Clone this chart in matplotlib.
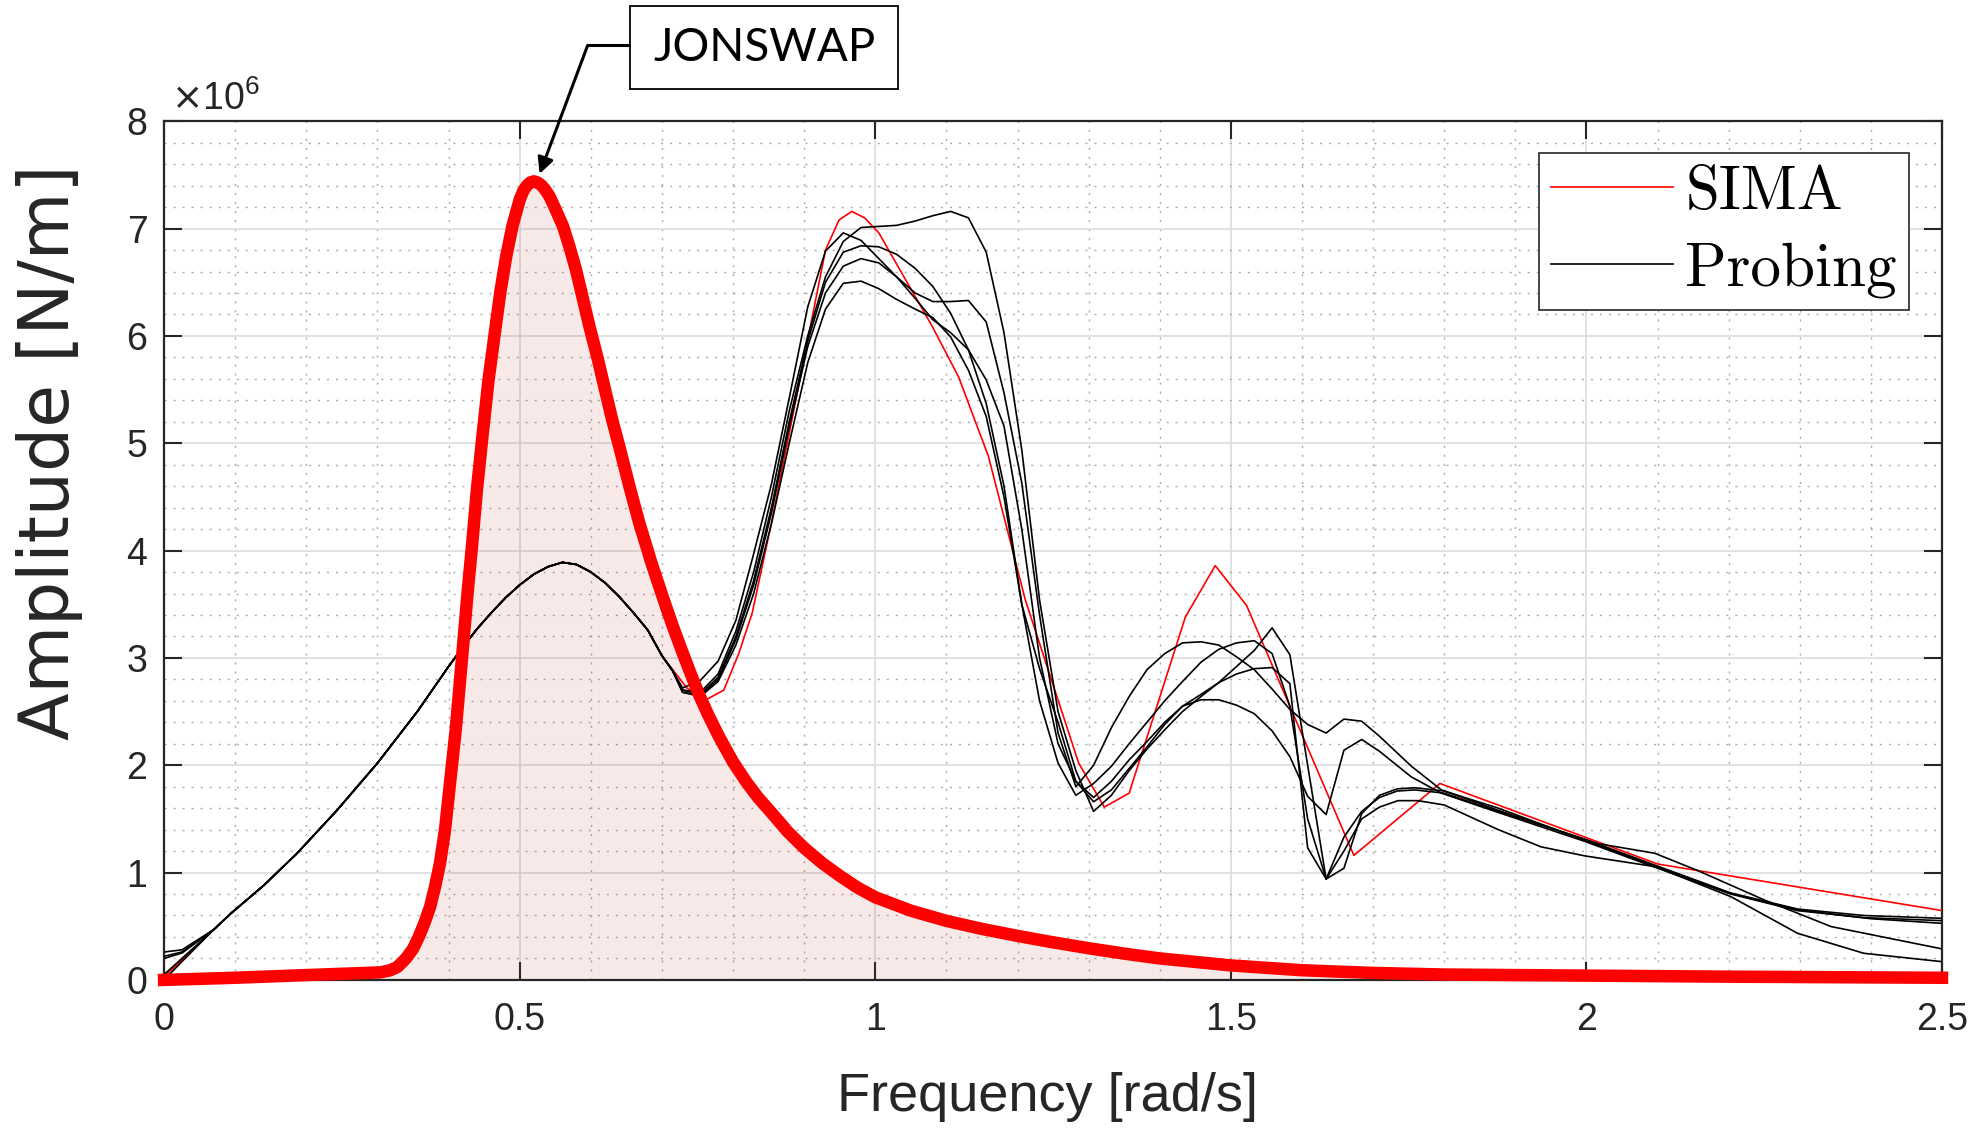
import matplotlib
matplotlib.use('Agg')
import matplotlib.pyplot as plt
from matplotlib.ticker import MultipleLocator, FormatStrFormatter
from matplotlib.patches import Rectangle

plt.rcParams['font.family'] = ['Liberation Sans', 'DejaVu Sans']

# ---- data (amplitudes in 1e6 N/m) ----
jonswap_freq = [0.0, 0.10, 0.20, 0.304, 0.318, 0.328, 0.340, 0.350, 0.358, 0.366, 0.374, 0.381,
                0.388, 0.395, 0.400, 0.410, 0.419, 0.427, 0.433, 0.440, 0.448, 0.456, 0.465, 0.473,
                0.481, 0.490, 0.500, 0.505, 0.510, 0.515, 0.520, 0.525, 0.531, 0.536, 0.542, 0.551,
                0.561, 0.570, 0.579, 0.588, 0.598, 0.610, 0.621, 0.630, 0.640, 0.655, 0.668, 0.685,
                0.701, 0.715, 0.729, 0.740, 0.752, 0.765, 0.780, 0.800, 0.818, 0.835, 0.855, 0.877,
                0.90, 0.925, 0.95, 0.975, 1.00, 1.05, 1.10, 1.15, 1.20, 1.25, 1.30, 1.35,
                1.40, 1.50, 1.60, 1.70, 1.80, 2.00, 2.20, 2.50]
jonswap_amp = [0.00, 0.02, 0.045, 0.07, 0.09, 0.12, 0.20, 0.29, 0.40, 0.53, 0.68, 0.87,
               1.09, 1.40, 1.71, 2.33, 3.01, 3.63, 4.05, 4.58, 5.09, 5.58, 6.03, 6.42,
               6.74, 7.03, 7.27, 7.35, 7.40, 7.43, 7.44, 7.43, 7.40, 7.36, 7.30, 7.17,
               7.02, 6.83, 6.62, 6.37, 6.09, 5.78, 5.47, 5.22, 4.97, 4.58, 4.26, 3.89,
               3.57, 3.30, 3.05, 2.86, 2.66, 2.47, 2.27, 2.03, 1.85, 1.70, 1.55, 1.38,
               1.23, 1.09, 0.97, 0.86, 0.77, 0.645, 0.55, 0.475, 0.41, 0.35, 0.295, 0.245,
               0.20, 0.135, 0.09, 0.065, 0.05, 0.04, 0.03, 0.02]

sima_freq = [0.0, 0.07, 0.094, 0.14, 0.187, 0.243, 0.30, 0.356, 0.40, 0.42, 0.44, 0.46,
             0.48, 0.50, 0.52, 0.54, 0.56, 0.58, 0.60, 0.62, 0.64, 0.66, 0.68, 0.70,
             0.735, 0.762, 0.787, 0.808, 0.827, 0.855, 0.893, 0.930, 0.949, 0.967, 0.985, 1.005,
             1.080, 1.117, 1.159, 1.211, 1.286, 1.322, 1.357, 1.436, 1.478, 1.522, 1.673, 1.794,
             2.10, 2.50]
sima_amp = [0.03, 0.47, 0.62, 0.88, 1.18, 1.58, 2.02, 2.50, 2.92, 3.10, 3.27, 3.42,
            3.56, 3.68, 3.78, 3.85, 3.89, 3.87, 3.80, 3.70, 3.57, 3.42, 3.26, 3.02,
            2.72, 2.61, 2.70, 3.04, 3.42, 4.29, 5.56, 6.80, 7.08, 7.16, 7.10, 6.96,
            6.09, 5.62, 4.88, 3.54, 2.02, 1.61, 1.74, 3.38, 3.86, 3.49, 1.16, 1.83,
            1.08, 0.646]

# probing runs: common start / low-frequency hump
start_freq = [0.0, 0.025]
low_freq = [0.07, 0.094, 0.14, 0.187, 0.243, 0.30, 0.356, 0.40, 0.42, 0.44, 0.46, 0.48,
            0.50, 0.52, 0.54, 0.56, 0.58, 0.60, 0.62, 0.64, 0.66, 0.68, 0.70, 0.715]
low_amp = [0.47, 0.62, 0.88, 1.18, 1.58, 2.02, 2.50, 2.92, 3.10, 3.27, 3.42, 3.56,
           3.68, 3.78, 3.85, 3.89, 3.87, 3.80, 3.70, 3.57, 3.42, 3.26, 3.02, 2.88]

mid_freq = [0.729, 0.754, 0.779, 0.804, 0.829, 0.854, 0.879, 0.905, 0.930, 0.955,
            0.980, 1.005, 1.030, 1.056, 1.081, 1.106, 1.131, 1.156, 1.181, 1.206,
            1.231, 1.257, 1.282, 1.307, 1.332, 1.357, 1.382, 1.407, 1.432, 1.458,
            1.483, 1.508, 1.533, 1.558, 1.583, 1.608, 1.634, 1.659, 1.684, 1.709]

run1_start = [0.26, 0.28]
run1_mid = [2.72, 2.79, 2.97, 3.35, 3.97, 4.62, 5.42, 6.27, 6.79, 6.96,
            6.89, 6.72, 6.55, 6.40, 6.32, 6.32, 6.33, 6.13, 5.47, 4.63,
            3.40, 2.30, 1.80, 2.00, 2.35, 2.64, 2.89, 3.04, 3.14, 3.15,
            3.12, 3.01, 2.89, 2.71, 2.52, 2.38, 2.30, 2.43, 2.41, 2.27]
run1_tail_freq = [1.754, 1.796, 1.876, 1.998, 2.096, 2.203, 2.297, 2.39, 2.5]
run1_tail_amp = [1.99, 1.77, 1.58, 1.31, 1.07, 0.81, 0.66, 0.60, 0.574]

run2_start = [0.22, 0.26]
run2_mid = [2.70, 2.68, 2.85, 3.25, 3.80, 4.50, 5.30, 6.00, 6.55, 6.88,
            7.01, 7.02, 7.03, 7.07, 7.12, 7.16, 7.10, 6.78, 6.03, 4.94,
            3.54, 2.50, 1.95, 1.57, 1.72, 1.95, 2.15, 2.33, 2.50, 2.64,
            2.77, 2.92, 3.07, 3.28, 3.03, 2.00, 0.94, 1.04, 1.55, 1.72]
run2_tail_freq = [1.734, 1.759, 1.80, 1.876, 1.998, 2.096, 2.20, 2.30, 2.40, 2.5]
run2_tail_amp = [1.78, 1.79, 1.76, 1.60, 1.30, 1.06, 0.81, 0.65, 0.57, 0.527]

run3_start = [0.20, 0.25]
run3_mid = [2.70, 2.66, 2.82, 3.20, 3.72, 4.40, 5.20, 5.95, 6.50, 6.78,
            6.84, 6.83, 6.76, 6.63, 6.46, 6.21, 5.87, 5.37, 4.60, 3.50,
            2.60, 2.02, 1.72, 1.83, 1.99, 2.20, 2.40, 2.60, 2.78, 2.96,
            3.08, 3.14, 3.16, 3.04, 2.55, 1.50, 0.94, 1.33, 1.57, 1.70]
run3_tail_freq = [1.734, 1.759, 1.80, 1.876, 2.016, 2.096, 2.156, 2.25, 2.344, 2.5]
run3_tail_amp = [1.76, 1.77, 1.74, 1.57, 1.27, 1.18, 1.02, 0.745, 0.497, 0.289]

run4_start = [0.05, 0.20]
run4_mid = [2.68, 2.65, 2.80, 3.17, 3.68, 4.35, 5.15, 5.90, 6.40, 6.65,
            6.72, 6.68, 6.55, 6.35, 6.15, 6.03, 5.87, 5.59, 5.16, 4.20,
            3.00, 2.20, 1.85, 1.70, 1.85, 2.05, 2.22, 2.40, 2.55, 2.66,
            2.77, 2.85, 2.90, 2.91, 2.76, 1.23, 0.94, 1.20, 1.50, 1.61]
run4_tail_freq = [1.735, 1.763, 1.80, 1.876, 1.936, 1.998, 2.096, 2.203, 2.297, 2.39, 2.5]
run4_tail_amp = [1.67, 1.67, 1.63, 1.40, 1.24, 1.155, 1.056, 0.776, 0.434, 0.248, 0.17]

run5_start = [0.0, 0.17]
run5_mid = [2.68, 2.64, 2.78, 3.12, 3.60, 4.25, 5.00, 5.75, 6.25, 6.49,
            6.51, 6.44, 6.34, 6.25, 6.17, 5.99, 5.68, 5.25, 4.50, 3.50,
            2.90, 2.40, 1.85, 1.66, 1.77, 1.97, 2.17, 2.38, 2.55, 2.61,
            2.61, 2.56, 2.48, 2.32, 2.08, 1.71, 1.54, 2.14, 2.24, 2.13]
run5_tail_freq = [1.754, 1.796, 1.876, 1.998, 2.096, 2.203, 2.297, 2.39, 2.5]
run5_tail_amp = [1.89, 1.74, 1.56, 1.29, 1.05, 0.80, 0.645, 0.58, 0.552]

runs = [
    (run1_start, run1_mid, run1_tail_freq, run1_tail_amp),
    (run2_start, run2_mid, run2_tail_freq, run2_tail_amp),
    (run3_start, run3_mid, run3_tail_freq, run3_tail_amp),
    (run4_start, run4_mid, run4_tail_freq, run4_tail_amp),
    (run5_start, run5_mid, run5_tail_freq, run5_tail_amp),
]

DARK = '#262626'

fig = plt.figure(figsize=(19.8, 11.31), dpi=100)
ax = fig.add_axes([0.0829, 0.1336, 0.8979, 0.7592])

# spectrum shading + lines
ax.fill_between(jonswap_freq, 0, jonswap_amp, color='#c03030', alpha=0.1, lw=0, zorder=1)
sima_line, = ax.plot(sima_freq, sima_amp, color='red', lw=1.2, zorder=3)
probe_line = None
for start, mid, tail_f, tail_a in runs:
    freq = start_freq + low_freq + mid_freq + tail_f
    amp = start + low_amp + mid + tail_a
    probe_line, = ax.plot(freq, amp, color='black', lw=1.2, zorder=4)
ax.plot(jonswap_freq, jonswap_amp, color='red', lw=9, zorder=5, clip_on=False,
        solid_joinstyle='round')

# axes styling (matlab look)
ax.set_xlim(0, 2.5)
ax.set_ylim(0, 8)
ax.xaxis.set_major_locator(MultipleLocator(0.5))
ax.yaxis.set_major_locator(MultipleLocator(1))
ax.xaxis.set_minor_locator(MultipleLocator(0.1))
ax.yaxis.set_minor_locator(MultipleLocator(0.2))
ax.xaxis.set_major_formatter(FormatStrFormatter('%g'))
ax.yaxis.set_major_formatter(FormatStrFormatter('%g'))

ax.set_axisbelow(True)
ax.grid(which='major', color='#dcdcdc', lw=1.2, ls='-')
ax.grid(which='minor', color='#ababab', lw=1.0, ls=(0, (1.5, 5)))

for sp in ax.spines.values():
    sp.set_color(DARK)
    sp.set_linewidth(1.6)

ax.tick_params(which='major', direction='in', length=13, width=1.5, color=DARK,
               top=True, right=True, labelsize=27, labelcolor=DARK)
ax.tick_params(axis='x', which='major', pad=16)
ax.tick_params(axis='y', which='major', pad=12)
ax.tick_params(which='minor', length=0, top=True, right=True)

ax.set_xlabel('Frequency [rad/s]', fontsize=39, color=DARK)
ax.xaxis.set_label_coords(0.497, -0.107)
ax.set_ylabel('Amplitude [N/m]', fontsize=50, color=DARK, family='DejaVu Sans')
ax.yaxis.set_label_coords(-0.0457, 0.615)

ax.text(0.004, 1.004, r'$\times\mathregular{10^{6}}$', transform=ax.transAxes,
        fontsize=27, color=DARK, ha='left', va='bottom')

leg = ax.legend([sima_line, probe_line], ['SIMA', 'Probing'], loc='upper right',
                bbox_to_anchor=(0.9814, 0.963), borderaxespad=0, fancybox=False,
                framealpha=1, edgecolor=DARK, prop={'family': 'cmr10', 'size': 44},
                handlelength=2.0, handletextpad=0.2, labelspacing=0.35, borderpad=0.2)
leg.get_frame().set_linewidth(1.2)
leg.set_zorder(10)

# JONSWAP callout box + arrow
box = Rectangle((630 / 1980, 1 - 89 / 1131), 268 / 1980, 83 / 1131, transform=fig.transFigure,
                facecolor='white', edgecolor='black', lw=1.3)
fig.add_artist(box)
fig.text(764 / 1980, 1 - 48 / 1131, 'JONSWAP', fontsize=33, family=['Lato', 'DejaVu Sans'],
         ha='center', va='center', color='black')
ax.plot([0.5955, 0.654], [8.706, 8.706], color='black', lw=2.2, clip_on=False, zorder=6)
ax.annotate('', xy=(0.528, 7.51), xytext=(0.5955, 8.706), annotation_clip=False,
            arrowprops=dict(arrowstyle='-|>,head_length=0.6,head_width=0.3', color='black',
                            lw=2.2, mutation_scale=16, shrinkA=0, shrinkB=0))

fig.savefig('out.png', dpi=100)
